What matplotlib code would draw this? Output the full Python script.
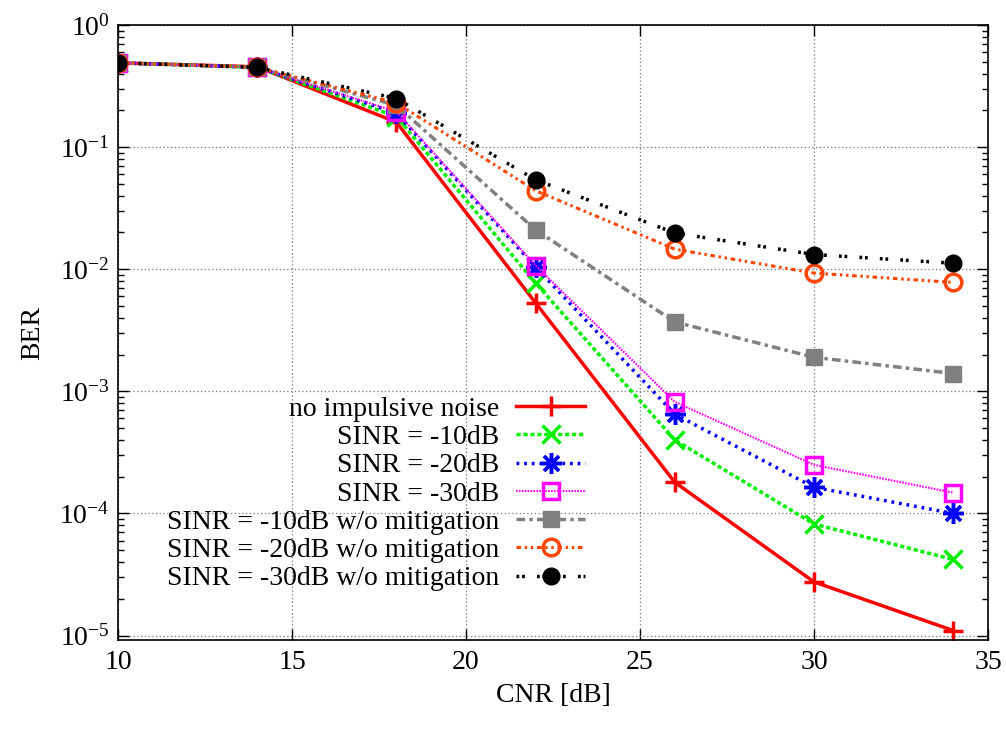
import numpy as np
import matplotlib
matplotlib.use("Agg")
import matplotlib.pyplot as plt
from matplotlib.ticker import LogLocator, FixedLocator, NullLocator

plt.rcParams['font.family'] = ['Liberation Serif', 'DejaVu Serif']
plt.rcParams['mathtext.fontset'] = 'custom'
plt.rcParams['mathtext.rm'] = 'Liberation Serif'
plt.rcParams['mathtext.it'] = 'Liberation Serif:italic'
plt.rcParams['mathtext.default'] = 'regular'
plt.rcParams['axes.unicode_minus'] = False

# CNR [dB]
cnr = [10, 14, 18, 22, 26, 30, 34]

# BER curves
ber_none   = [0.49, 0.455, 0.16, 0.0053, 1.8e-4, 2.75e-5, 1.1e-5]
ber_m10    = [0.49, 0.45, 0.178, 0.0077, 4.0e-4, 8.2e-5, 4.2e-5]
ber_m20    = [0.49, 0.45, 0.19, 0.0104, 6.5e-4, 1.64e-4, 1.0e-4]
ber_m30    = [0.49, 0.45, 0.195, 0.0107, 8.2e-4, 2.5e-4, 1.48e-4]
ber_m10_wo = [0.49, 0.45, 0.22, 0.021, 0.0037, 0.0019, 0.0014]
ber_m20_wo = [0.49, 0.45, 0.23, 0.044, 0.0146, 0.0093, 0.0078]
ber_m30_wo = [0.49, 0.45, 0.25, 0.054, 0.0198, 0.0132, 0.0112]

labels = ["no impulsive noise",
          "SINR = -10dB",
          "SINR = -20dB",
          "SINR = -30dB",
          "SINR = -10dB w/o mitigation",
          "SINR = -20dB w/o mitigation",
          "SINR = -30dB w/o mitigation"]

fig = plt.figure(figsize=(10.06, 7.29), dpi=100)
ax = fig.add_axes([118/1006, 1 - 640/729, (988-118)/1006, (640-25)/729])

ax.plot(cnr, ber_none, color='#ff0000', lw=2.5, ls='-',
        marker='+', ms=14, mew=2.5, label=labels[0])
ax.plot(cnr, ber_m10, color='#00ee00', lw=2.5, ls=(0, (1.2, 0.8)),
        marker='x', ms=13, mew=2.5, label=labels[1])
ax.plot(cnr, ber_m20, color='#0000ff', lw=2.5, ls=(0, (0.8, 1.4)),
        marker=(8, 2, 0), ms=15, mew=2.5, label=labels[2])
ax.plot(cnr, ber_m30, color='#ff00ff', lw=1.5, ls=(0, (0.8, 0.6)),
        marker='s', ms=12, mew=2.5, mfc='none', label=labels[3])
ax.plot(cnr, ber_m10_wo, color='#808080', lw=2.5, ls=(0, (2.5, 1.2, 1, 1.2)),
        marker='s', ms=12, mew=1, label=labels[4])
ax.plot(cnr, ber_m20_wo, color='#ff4500', lw=2.2, ls=(0, (1.5, 1.2, 0.8, 1.2, 0.8, 1.2)),
        marker='o', ms=12, mew=2.5, mfc='none', label=labels[5])
ax.plot(cnr, ber_m30_wo, color='#000000', lw=2.5, ls=(0, (0.8, 0.8, 0.8, 3.5)),
        marker='o', ms=12, mew=1, label=labels[6])

ax.set_yscale('log')
ax.set_xlim(10, 35)
ax.set_ylim(0.92e-5, 1.0)
ax.xaxis.set_major_locator(FixedLocator([10, 15, 20, 25, 30, 35]))
ax.xaxis.set_minor_locator(NullLocator())
ax.yaxis.set_major_locator(LogLocator(base=10, numticks=10))
ax.yaxis.set_minor_locator(LogLocator(base=10, subs=np.arange(2, 10), numticks=20))

ax.grid(True, which='major', color='#777777', ls=(0, (1, 2)), lw=0.9)
ax.tick_params(which='both', direction='in', top=True, right=True, labelsize=20)
ax.tick_params(which='major', length=8, width=1)
ax.tick_params(which='minor', length=4, width=1)
ax.tick_params(axis='x', pad=7)
ax.tick_params(axis='y', pad=6)
for s in ax.spines.values():
    s.set_linewidth(1.2)

ax.set_xlabel("CNR [dB]", fontsize=20, labelpad=6)
ax.set_ylabel("BER", fontsize=20, labelpad=10)

leg = ax.legend(loc='upper right', bbox_to_anchor=(0.55, 0.414), frameon=False,
                markerfirst=False, fontsize=20, handlelength=2.5,
                handletextpad=0.6, labelspacing=0.1, borderaxespad=0)

fig.savefig("out.png", dpi=100)
